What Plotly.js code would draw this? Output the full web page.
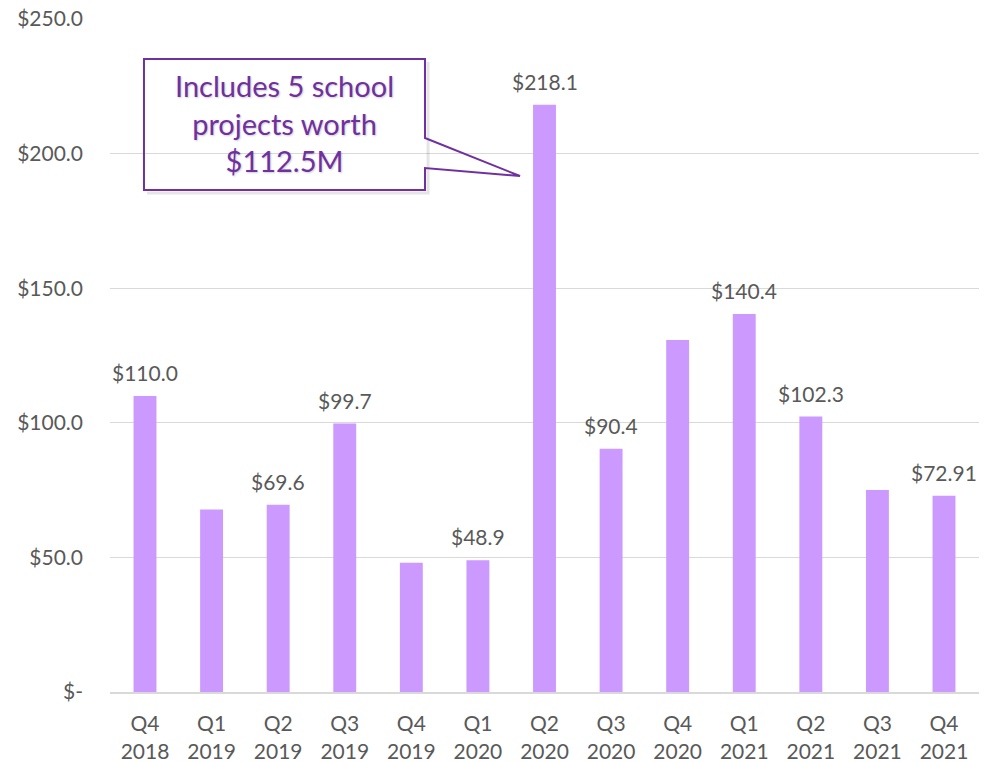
<!DOCTYPE html>
<html>
<head>
<meta charset="utf-8">
<script src="https://cdn.plot.ly/plotly-3.0.1.min.js"></script>
<style>html,body{margin:0;padding:0;background:#fff;}#chart{width:992px;height:762px;}</style>
</head>
<body>
<div id="chart"></div>
<script>
const quarters = ["Q4<br>2018","Q1<br>2019","Q2<br>2019","Q3<br>2019","Q4<br>2019","Q1<br>2020","Q2<br>2020","Q3<br>2020","Q4<br>2020","Q1<br>2021","Q2<br>2021","Q3<br>2021","Q4<br>2021"];
const values = [110.0, 67.8, 69.6, 99.7, 48.0, 48.9, 218.1, 90.4, 130.8, 140.4, 102.3, 75.0, 72.91];
const barLabels = ["$110.0", "", "$69.6", "$99.7", "", "$48.9", "$218.1", "$90.4", "", "$140.4", "$102.3", "", "$72.91"];
const yTickVals = [0, 50, 100, 150, 200, 250];
const yTickText = ["$-", "$50.0", "$100.0", "$150.0", "$200.0", "$250.0"];
const calloutText = "Includes 5 school<br>projects worth<br>$112.5M";

const FONT = "Lato, 'Open Sans', sans-serif";
const GREY = "#595959";
const PURPLE = "#7030a0";

const trace = {
  type: "bar",
  x: quarters,
  y: values,
  marker: {color: "#cc99ff"},
  hoverinfo: "skip"
};

const annotations = [];
quarters.forEach((q, i) => {
  if (barLabels[i]) {
    annotations.push({
      x: q, y: values[i], xref: "x", yref: "y",
      text: barLabels[i], showarrow: false,
      yanchor: "bottom", yshift: 9,
      font: {family: FONT, size: 21, color: GREY}
    });
  }
});
annotations.push({
  xref: "paper", yref: "paper", x: 0.2007, y: 0.846,
  xanchor: "center", yanchor: "middle",
  text: calloutText, showarrow: false, align: "center",
  font: {family: FONT, size: 29, color: PURPLE, shadow: "1px 1px 2px rgba(0,0,0,0.2)"}
});

const shadowPath = "M 0.3660,0.9361 L 0.3660,0.7414 L 0.0426,0.7414";
const calloutPath = "M 0.0391,0.9406 L 0.3625,0.9406 L 0.3625,0.8232 L 0.4718,0.7667 L 0.3625,0.7786 L 0.3625,0.7459 L 0.0391,0.7459 Z";

const layout = {
  width: 992, height: 762,
  margin: {l: 110, r: 13, t: 19, b: 70},
  paper_bgcolor: "#fff", plot_bgcolor: "#fff",
  showlegend: false,
  bargap: 0.656,
  font: {family: FONT, size: 21, color: GREY},
  xaxis: {
    type: "category",
    showgrid: false,
    showline: true, linecolor: "#d9d9d9", linewidth: 2,
    ticks: "", ticklabelstandoff: 12,
    tickfont: {family: FONT, size: 21, color: GREY},
    fixedrange: true
  },
  yaxis: {
    range: [0, 250],
    tickvals: yTickVals, ticktext: yTickText,
    showgrid: true, gridcolor: "#d9d9d9", gridwidth: 1,
    zeroline: false, showline: false,
    ticks: "", ticklabelstandoff: 26,
    tickfont: {family: FONT, size: 21, color: GREY},
    fixedrange: true
  },
  shapes: [
    {type: "path", xref: "paper", yref: "paper", path: shadowPath,
     line: {color: "rgba(0,0,0,0.10)", width: 3}, layer: "above"},
    {type: "path", xref: "paper", yref: "paper", path: calloutPath,
     line: {color: PURPLE, width: 2}, fillcolor: "rgba(255,255,255,0)", layer: "above"}
  ],
  annotations: annotations
};

Plotly.newPlot("chart", [trace], layout, {displayModeBar: false, staticPlot: true});
</script>
</body>
</html>
